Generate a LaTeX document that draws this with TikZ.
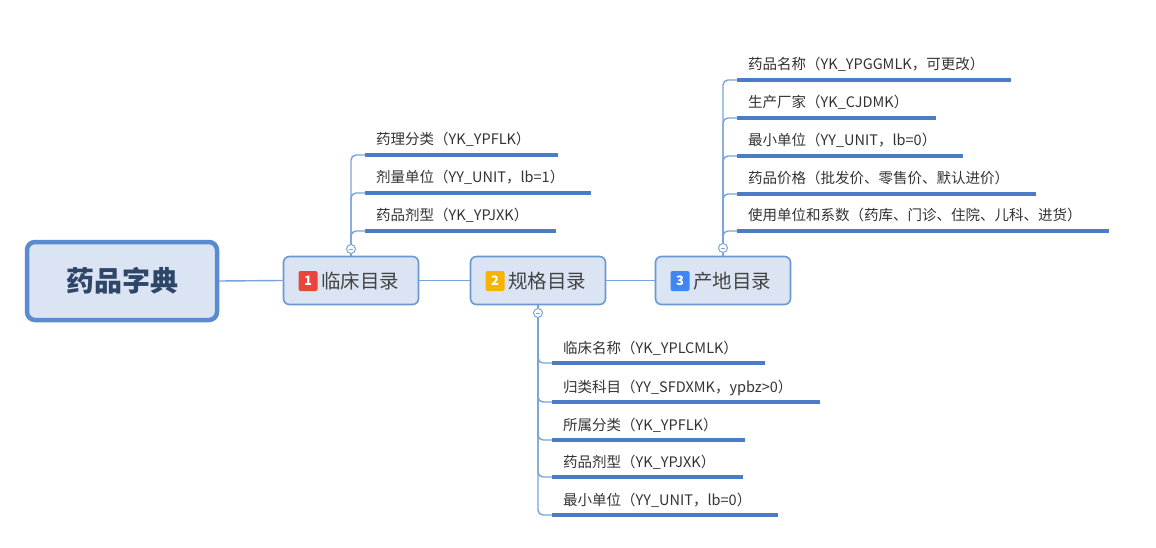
\documentclass[tikz,border=0pt]{standalone}
\usepackage{fontspec}
\setmainfont{Noto Sans CJK SC}
\usetikzlibrary{calc}
\definecolor{boxfill}{HTML}{DAE4F2}
\definecolor{boxline}{HTML}{6A98D4}
\definecolor{rootline}{HTML}{5A8BD0}
\definecolor{connc}{HTML}{7AA3DA}
\definecolor{ulinec}{HTML}{4A7DC6}
\definecolor{roottext}{HTML}{2E4668}
\definecolor{topictext}{HTML}{444444}
\definecolor{leaftextc}{HTML}{333333}
\definecolor{bred}{HTML}{E8453C}
\definecolor{borange}{HTML}{F5B400}
\definecolor{bblue}{HTML}{3F86F2}
\newcommand\leaf[4]{%
  \node[leafstyle, anchor=base west] (#1) at (#2,#3-10) {#4};
  \draw[uline] ([xshift=-11pt,yshift=-10pt]#1.base west) -- ([xshift=27pt,yshift=-10pt]#1.base east);
}
\begin{document}
\begin{tikzpicture}[x=1pt,y=-1pt,
  rootbox/.style={draw=rootline, line width=4.5pt, fill=boxfill, rounded corners=8pt,
    minimum width=190pt, minimum height=78pt, text=roottext,
    font=\fontsize{28}{30}\selectfont\bfseries},
  topicbox/.style={draw=boxline, line width=1.6pt, fill=boxfill, rounded corners=6pt,
    minimum width=135pt, minimum height=48pt, inner sep=0pt},
  badgestyle/.style={rounded corners=2pt, minimum width=19pt, minimum height=20pt,
    inner sep=0pt, text=white, font=\fontsize{13}{13}\selectfont\bfseries},
  topiclabel/.style={anchor=west, inner sep=0pt, text=topictext,
    font=\fontsize{19.5}{21}\selectfont},
  conn/.style={draw=connc, line width=1.4pt},
  uline/.style={draw=ulinec, line width=3.3pt},
  leafstyle/.style={inner sep=0pt, text=leaftextc, font=\fontsize{14.5}{16}\selectfont},
  collapse/.style={circle, draw=connc, fill=white, line width=1pt, minimum size=9pt, inner sep=0pt,
    path picture={\draw[connc, line width=0.9pt] ([xshift=-2.3pt]path picture bounding box.center) -- ([xshift=2.3pt]path picture bounding box.center);}}
]
\useasboundingbox (0,0) rectangle (1156,548);
\fill[white] (0,0) rectangle (1156,548);

\coordinate (rootc) at (122,281);
\coordinate (t1c) at (351,280.5);
\coordinate (t2c) at (538,280.5);
\coordinate (t3c) at (723,280.5);

\node[rootbox] (root) at (rootc) {药品字典};
\node[topicbox] (t1) at (t1c) {};
\node[topicbox] (t2) at (t2c) {};
\node[topicbox] (t3) at (t3c) {};
\draw[conn] (root.east) -- (t1.west);
\draw[conn] (t1.east) -- (t2.west);
\draw[conn] (t2.east) -- (t3.west);

\node[badgestyle, fill=bred] (b1) at (308,281) {1};
\node[topiclabel] (x1) at (321,281) {临床目录};
\node[badgestyle, fill=borange] (b2) at (495,281) {2};
\node[topiclabel] (x2) at (508,281) {规格目录};
\node[badgestyle, fill=bblue] (b3) at (680,281) {3};
\node[topiclabel] (x3) at (693,281) {产地目录};

% collapse markers
\node[collapse] (c1) at (351,249) {};
\node[collapse] (c2) at (538,313) {};
\node[collapse] (c3) at (723,248) {};
\draw[conn] (t1.north) -- (c1.south);
\draw[conn] (t2.south) -- (c2.north);
\draw[conn] (t3.north) -- (c3.south);

% subtree 1
\leaf{l11}{376}{155}{药理分类（YK\_YPFLK）}
\leaf{l12}{376}{193}{剂量单位（YY\_UNIT，lb=1）}
\leaf{l13}{376}{231}{药品剂型（YK\_YPJXK）}
\foreach \l in {l11,l12,l13}
  \draw[conn, rounded corners=5pt] (c1.north) |- ([xshift=-11pt,yshift=-10pt]\l.base west);

% subtree 3
\leaf{l31}{748}{80}{药品名称（YK\_YPGGMLK，可更改）}
\leaf{l32}{748}{118}{生产厂家（YK\_CJDMK）}
\leaf{l33}{748}{156}{最小单位（YY\_UNIT，lb=0）}
\leaf{l34}{748}{194}{药品价格（批发价、零售价、默认进价）}
\leaf{l35}{748}{231}{使用单位和系数（药库、门诊、住院、儿科、进货）}
\foreach \l in {l31,l32,l33,l34,l35}
  \draw[conn, rounded corners=5pt] (c3.north) |- ([xshift=-11pt,yshift=-10pt]\l.base west);

% subtree 2
\leaf{l21}{563}{363}{临床名称（YK\_YPLCMLK）}
\leaf{l22}{563}{402}{归类科目（YY\_SFDXMK，ypbz>0）}
\leaf{l23}{563}{440}{所属分类（YK\_YPFLK）}
\leaf{l24}{563}{477}{药品剂型（YK\_YPJXK）}
\leaf{l25}{563}{515}{最小单位（YY\_UNIT，lb=0）}
\foreach \l in {l21,l22,l23,l24,l25}
  \draw[conn, rounded corners=5pt] (c2.south) |- ([xshift=-11pt,yshift=-10pt]\l.base west);

\end{tikzpicture}
\end{document}
